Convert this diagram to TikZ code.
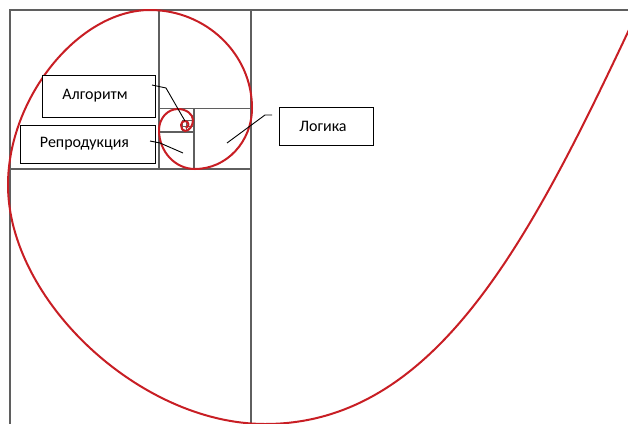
\documentclass[tikz,border=0pt]{standalone}
\usepackage{fontspec}
\setmainfont{Carlito}
\definecolor{spiralred}{RGB}{200,30,36}
\definecolor{gridgray}{RGB}{95,95,95}
\begin{document}
\begin{tikzpicture}[x=1pt,y=-1pt,
  gridline/.style={draw=gridgray, line width=1.4pt},
  spiral/.style={draw=spiralred, line width=2pt, line join=round},
  lbl/.style={draw=black, line width=0.9pt, fill=white, inner sep=0pt,
    font=\fontsize{16}{19}\selectfont},
  conn/.style={draw=black, line width=0.9pt}]
\useasboundingbox (0,0) rectangle (628,423);
\clip (0,0) rectangle (628,423);
% grid of squares
\draw[gridline] (10,440) -- (10,10) -- (650,10);
\draw[gridline] (251,10) -- (251,440);
\draw[gridline] (10,169) -- (251,169);
\draw[gridline] (159,10) -- (159,169);
\draw[gridline] (159,108.5) -- (251,108.5);
\draw[gridline] (194,108.5) -- (194,169);
\draw[gridline] (159,132) -- (194,132);
\draw[gridline, line width=1pt] (182,120) rectangle (194,132);
\draw[gridline, line width=1pt] (182,126.5) -- (194,126.5);
\draw[gridline, line width=1pt] (186.5,120) -- (186.5,132);
% spiral
\draw[spiral] (650,-15) .. controls (540,220) and (445,424) .. (265,424)
  .. controls (140,424) and (8,300) .. (8,185)
  .. controls (8,97.5) and (79,10) .. (150,10)
  .. controls (206,10) and (252,54) .. (252,108)
  .. controls (252,141.7) and (226.5,169) .. (195,169)
  .. controls (175,169) and (159,151.5) .. (159,130)
  .. controls (159,118.4) and (167.5,109) .. (178,109)
  .. controls (186,109) and (193,114) .. (193,120)
  .. controls (193,126) and (189,131) .. (185,131)
  .. controls (182.5,131) and (181,128) .. (181,125)
  .. controls (181,122.5) and (183,121) .. (185,121)
  .. controls (187,121) and (188.5,122.5) .. (188.5,124.5)
  .. controls (188.5,126.5) and (187,127.5) .. (185.5,127.5);
% labels
\node[lbl, minimum width=113pt, minimum height=42pt] (alg) at (98.5,96) {\hspace*{-7pt}Алгоритм};
\node[lbl, minimum width=135pt, minimum height=38pt] (rep) at (87.5,144) {\hspace*{-6pt}Репродукция};
\node[lbl, minimum width=94pt, minimum height=38pt] (log) at (326,126) {\hspace*{-6pt}Логика};
% connector points
\coordinate (a0) at (152,85);
\coordinate (a1) at (166,88);
\coordinate (a2) at (185,121);
\coordinate (r0) at (150,141);
\coordinate (r1) at (160,143);
\coordinate (r2) at (183,153);
\coordinate (l0) at (272,115);
\coordinate (l1) at (265,115);
\coordinate (l2) at (227,143);
\draw[conn] (a0) -- (a1) -- (a2);
\draw[conn] (r0) -- (r1) -- (r2);
\draw[conn] (l0) -- (l1) -- (l2);
\end{tikzpicture}
\end{document}
